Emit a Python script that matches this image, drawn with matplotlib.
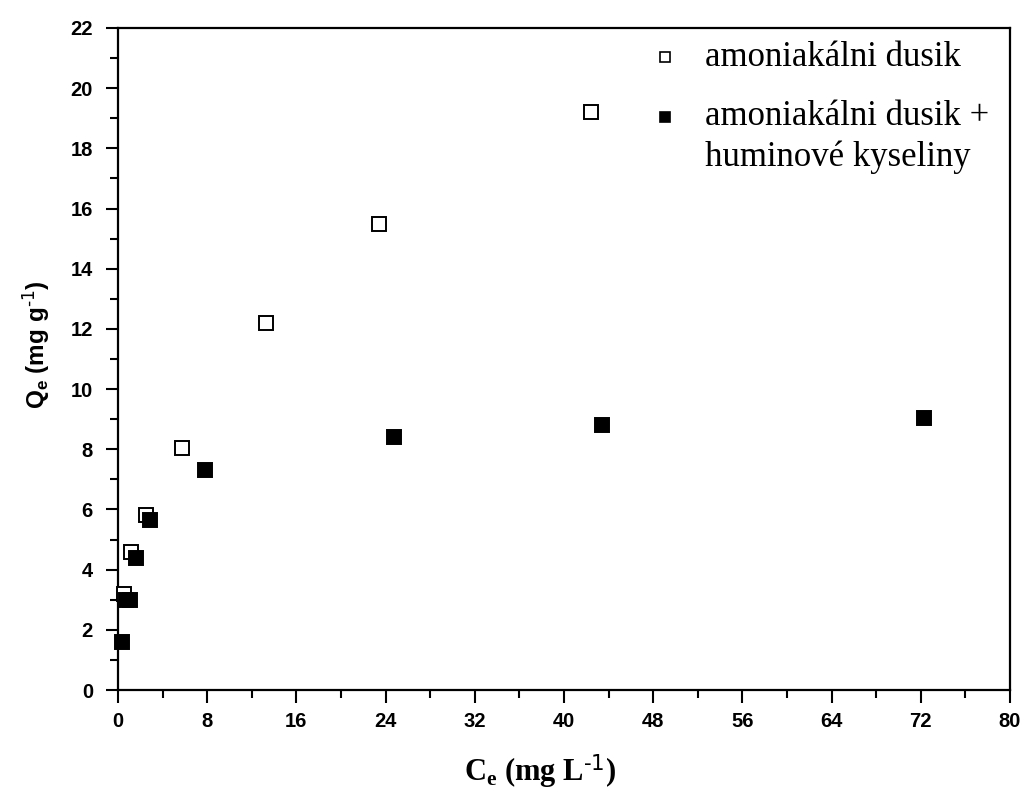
import numpy as np
import matplotlib
matplotlib.use("Agg")
import matplotlib.pyplot as plt
from matplotlib.ticker import MultipleLocator

plt.rcParams['mathtext.default'] = 'regular'

# amoniakalni dusik (open squares)
ce_n = [0.5, 1.2, 2.5, 5.7, 13.3, 23.4, 42.4]
qe_n = [3.2, 4.6, 5.8, 8.05, 12.2, 15.5, 19.2]

# amoniakalni dusik + huminove kyseliny (filled squares)
ce_nh = [0.4, 0.7, 1.1, 1.6, 2.9, 7.8, 24.8, 43.4, 72.3]
qe_nh = [1.6, 3.0, 3.0, 4.4, 5.65, 7.3, 8.4, 8.8, 9.05]

labels = ['amoniakálni dusik', 'amoniakálni dusik +', 'huminové kyseliny']

fig = plt.figure(figsize=(10.24, 7.99), dpi=100)
ax = fig.add_axes([0.1152, 0.1364, 0.8711, 0.8286])

ax.plot(ce_n, qe_n, ls='none', marker='s', ms=10, mfc='white', mec='black',
        mew=1.4, clip_on=False, zorder=3)
ax.plot(ce_nh, qe_nh, ls='none', marker='s', ms=10, mfc='black', mec='black',
        mew=1.4, clip_on=False, zorder=4)

ax.set_xlim(0, 80)
ax.set_ylim(0, 22)
ax.xaxis.set_major_locator(MultipleLocator(8))
ax.xaxis.set_minor_locator(MultipleLocator(4))
ax.yaxis.set_major_locator(MultipleLocator(2))
ax.yaxis.set_minor_locator(MultipleLocator(1))
ax.tick_params(which='major', direction='out', length=9, width=1.5, pad=7)
ax.tick_params(which='minor', direction='out', length=6, width=1.5)
ax.tick_params(axis='y', which='major', pad=9)
for sp in ax.spines.values():
    sp.set_linewidth(1.6)

for lab in ax.get_xticklabels() + ax.get_yticklabels():
    lab.set_fontfamily('Liberation Sans')
    lab.set_fontweight('bold')
    lab.set_fontsize(14.5)

ax.set_xlabel(r'C$_e$ (mg L$^{\text{-1}}$)', family='Liberation Serif', fontweight='bold',
              fontsize=22)
ax.xaxis.set_label_coords(0.473, -0.095)
ax.set_ylabel(r'Q$_e$ (mg g$^{\text{-1}}$)', family='Liberation Sans', fontweight='bold',
              fontsize=17.5)
ax.yaxis.set_label_coords(-0.074, 0.521)

# legend drawn by hand so the second marker sits on the first text line
leg_font = {'family': 'Liberation Serif', 'size': 25}
ax.plot([0.613], [0.956], transform=ax.transAxes, ls='none', marker='s', ms=7,
        mfc='white', mec='black', mew=1.2)
ax.plot([0.613], [0.866], transform=ax.transAxes, ls='none', marker='s', ms=7,
        mfc='black', mec='black', mew=1.2)
ax.text(0.658, 0.956, labels[0], transform=ax.transAxes, va='center', **leg_font)
ax.text(0.658, 0.866, labels[1], transform=ax.transAxes, va='center', **leg_font)
ax.text(0.658, 0.804, labels[2], transform=ax.transAxes, va='center', **leg_font)

fig.savefig('out.png', dpi=100)
